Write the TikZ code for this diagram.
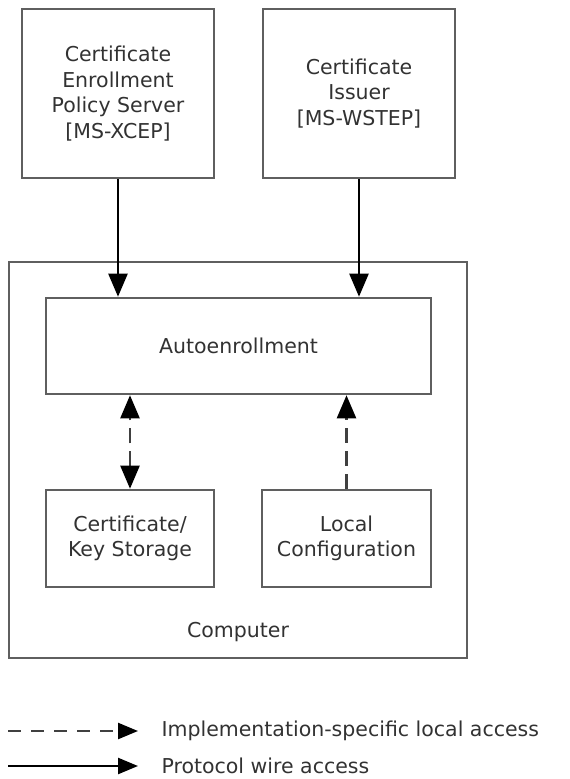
\documentclass[tikz,border=0pt]{standalone}
\usepackage{fontspec}
\setmainfont{DejaVu Sans}
\usetikzlibrary{arrows.meta}

\definecolor{boxgray}{RGB}{95,95,95}
\definecolor{txtgray}{RGB}{50,50,50}

\tikzset{
  box/.style={draw=boxgray, line width=2.6pt, align=center, text=txtgray,
    font=\fontsize{20.5}{25.5}\selectfont, inner sep=0pt},
  bigtip/.style={Triangle[length=23pt,width=19pt,color=black]},
  wire/.style={line width=2.4pt, -{Triangle[length=23pt,width=19pt]}},
  local/.style={line width=2.4pt, draw=black!75, dash pattern=on 15pt off 8pt,
    -{Triangle[length=23pt,width=19pt,color=black]}},
  legtext/.style={anchor=west, text=txtgray, font=\fontsize{20.5}{25.5}\selectfont}
}

\begin{document}
\begin{tikzpicture}[x=1pt, y=-1pt]
  \useasboundingbox (0,0) rectangle (570,779);

  % Servers on top
  \node[box, minimum width=192pt, minimum height=169pt] (cep) at (118,93.5)
    {Certificate\\Enrollment\\Policy Server\\{[MS-XCEP]}};
  \node[box, minimum width=192pt, minimum height=169pt] (issuer) at (359,93.5)
    {Certificate\\Issuer\\{[MS-WSTEP]}};

  % Computer with its parts
  \node[box, minimum width=458pt, minimum height=396pt] (computer) at (238,460) {};
  \node[text=txtgray, font=\fontsize{20.5}{25.5}\selectfont] (complabel) at (238,632) {Computer};
  \node[box, minimum width=385pt, minimum height=96pt] (auto) at (238.5,346) {Autoenrollment};
  \node[box, minimum width=168pt, minimum height=97pt] (store) at (130,538.5)
    {Certificate/\\Key Storage};
  \node[box, minimum width=169pt, minimum height=97pt] (config) at (346.5,538.5)
    {Local\\Configuration};

  % Protocol wire access
  \draw[wire] (cep.south) -- (cep.south |- auto.north);
  \draw[wire] (issuer.south) -- (issuer.south |- auto.north);

  % Local access
  \draw[local, {Triangle[length=23pt,width=19pt,color=black]}-{Triangle[length=23pt,width=19pt,color=black]}]
    (store.north) -- (store.north |- auto.south);
  \draw[local] (config.north) -- (config.north |- auto.south);

  % Legend
  \coordinate (dashstart) at (8,731);
  \coordinate (dashend) at (138,731);
  \coordinate (wirestart) at (8,766);
  \coordinate (wireend) at (138,766);
  \node[legtext] (legdash) at (158,731) {Implementation-specific local access};
  \node[legtext] (legwire) at (158,766) {Protocol wire access};
  \draw[local, dash pattern=on 13pt off 10pt, -{Triangle[length=20pt,width=16pt,color=black]}]
    (dashstart) -- (dashend);
  \draw[wire, -{Triangle[length=20pt,width=16pt]}] (wirestart) -- (wireend);
\end{tikzpicture}
\end{document}
